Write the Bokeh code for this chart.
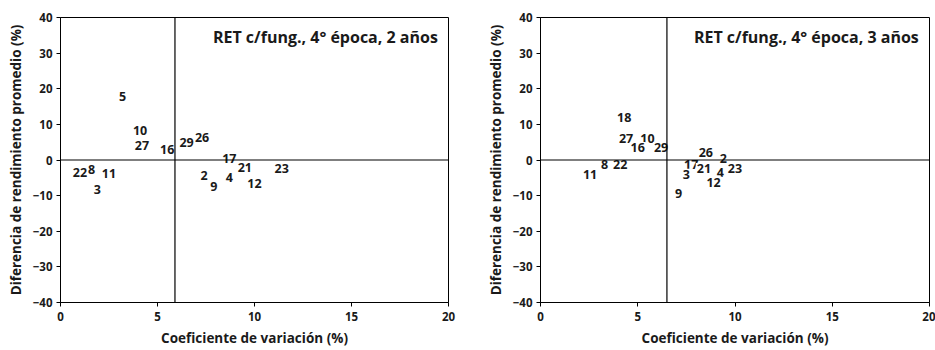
from bokeh.plotting import figure
from bokeh.layouts import row
from bokeh.models import ColumnDataSource, Span, Label, FixedTicker
from bokeh.core.properties import value
from bokeh.embed import file_html
from bokeh.resources import INLINE

# Panel 1: 2 años
ids_2 = ["5", "10", "27", "16", "29", "26", "17", "21", "23", "2", "4", "9", "12", "22", "8", "11", "3"]
cv_2 = [3.2, 4.1, 4.2, 5.5, 6.5, 7.3, 8.7, 9.5, 11.4, 7.4, 8.7, 7.9, 10.0, 1.0, 1.6, 2.5, 1.9]
diff_2 = [17.7, 8.4, 4.2, 3.0, 5.0, 6.3, 0.4, -2.0, -2.4, -4.3, -5.0, -7.5, -6.6, -3.4, -2.8, -3.8, -8.4]
vline_2 = 5.9
title_2 = "RET c/fung., 4° época, 2 años"

# Panel 2: 3 años
ids_3 = ["18", "27", "10", "16", "29", "26", "2", "23", "17", "21", "3", "4", "12", "9", "8", "22", "11"]
cv_3 = [4.3, 4.4, 5.5, 5.0, 6.2, 8.5, 9.4, 10.0, 7.75, 8.4, 7.5, 9.25, 8.9, 7.1, 3.3, 4.1, 2.55]
diff_3 = [12.0, 6.1, 6.0, 3.5, 3.5, 2.1, 0.4, -2.4, -1.2, -2.4, -4.0, -3.6, -6.2, -9.4, -1.2, -1.2, -4.0]
vline_3 = 6.5
title_3 = "RET c/fung., 4° época, 3 años"

x_ticks = [0, 5, 10, 15, 20]
y_ticks = [-40, -30, -20, -10, 0, 10, 20, 30, 40]
x_label = "Coeficiente de variación (%)"
y_label = "Diferencia de rendimiento promedio (%)"

FONT = "Open Sans"
TXT = "#1a1a1a"


def make_panel(ids, xs, ys, vx, title, width, left, right):
    p = figure(width=width, height=350, x_range=(0, 20), y_range=(-40, 40),
               output_backend="svg", toolbar_location=None,
               min_border_left=left, min_border_right=right,
               min_border_top=17, min_border_bottom=48)
    p.xgrid.visible = False
    p.ygrid.visible = False
    p.outline_line_color = "black"
    p.outline_line_width = 1
    p.background_fill_color = "white"
    p.border_fill_color = "white"
    for ax in (p.xaxis[0], p.yaxis[0]):
        ax.axis_line_color = "black"
        ax.major_tick_line_color = "black"
        ax.major_tick_out = 4
        ax.major_tick_in = 0
        ax.minor_tick_line_color = None
        ax.major_label_text_font = FONT
        ax.major_label_text_font_style = "bold"
        ax.major_label_text_font_size = "11.5px"
        ax.major_label_text_color = TXT
        ax.axis_label_text_font = FONT
        ax.axis_label_text_font_style = "bold"
        ax.axis_label_text_font_size = "13.5px"
        ax.axis_label_text_color = TXT
    p.xaxis.ticker = FixedTicker(ticks=x_ticks)
    p.yaxis.ticker = FixedTicker(ticks=y_ticks)
    p.xaxis.axis_label = x_label
    p.yaxis.axis_label = y_label
    p.xaxis.axis_label_standoff = 5
    p.yaxis.axis_label_standoff = 5
    p.xaxis.major_label_standoff = 5
    p.yaxis.major_label_standoff = 4

    p.add_layout(Span(location=0, dimension="width", line_color="black", line_width=1.2))
    p.add_layout(Span(location=vx, dimension="height", line_color="black", line_width=1.2))

    src = ColumnDataSource(dict(x=xs, y=ys, t=ids))
    p.text(x="x", y="y", text="t", source=src,
           text_font=value(FONT), text_font_style="bold", text_font_size="12.5px",
           text_color=TXT, text_align="center", text_baseline="middle",
           background_fill_color="white", padding=1)

    p.add_layout(Label(x=19.45, y=34.5, text=title, text_align="right",
                       text_baseline="middle", text_font=FONT,
                       text_font_style="bold", text_font_size="16px",
                       text_color=TXT))
    return p


p1 = make_panel(ids_2, cv_2, diff_2, vline_2, title_2, 467, 60, 19)
p2 = make_panel(ids_3, cv_3, diff_3, vline_3, title_3, 468, 73, 6)

layout = row(p1, p2)
layout.spacing = 0
open("out.html", "w").write(file_html(layout, INLINE))
